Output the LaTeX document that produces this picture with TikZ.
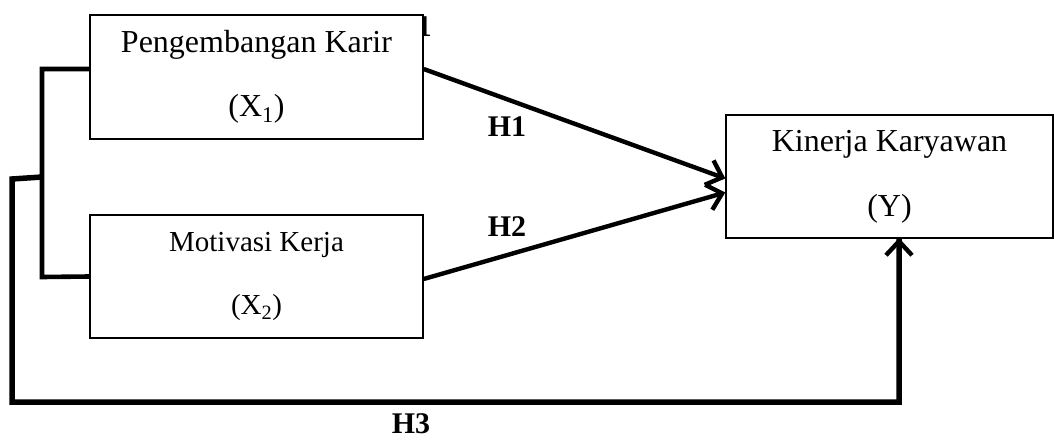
\documentclass[tikz,border=0pt]{standalone}
\usepackage{fontspec}
\setmainfont{Liberation Serif}
\usetikzlibrary{arrows.meta}
\begin{document}
\begin{tikzpicture}[x=1pt,y=-1pt,
  varbox/.style={draw=black,line width=1.4pt,fill=white,inner sep=0pt,align=center,
    minimum width=333pt,minimum height=124pt},
  hlabel/.style={font=\fontsize{30}{36}\selectfont\bfseries,inner sep=0pt},
  conn/.style={line width=4.6pt},
  arr/.style={line width=4.4pt,-{Straight Barb[length=14pt,width=26pt]}}]
\useasboundingbox (0,0) rectangle (1054,439);
% partly hidden label
\node[hlabel,anchor=base] (stray) at (424,36) {1};
% boxes
\node[varbox,font=\fontsize{32}{64}\selectfont] (X1) at (256.5,77) {Pengembangan Karir\\(X\textsubscript{1})};
\node[varbox,font=\fontsize{29}{63}\selectfont,minimum height=123pt] (X2) at (256.5,276.5) {Motivasi Kerja\\(X\textsubscript{2})};
\node[varbox,font=\fontsize{32}{65}\selectfont,minimum width=327pt,minimum height=123pt] (Y) at (889.5,176.5) {Kinerja Karyawan\\(Y)};
% bracket
\coordinate (br) at (42,277);
\coordinate (jn) at (42,177);
\coordinate (c1) at (12,179);
\coordinate (c2) at (12,402);
\coordinate (c3) at (899,402);
\coordinate (yin) at (899,238);
\draw[conn] ([yshift=8pt]X1.west) -| (br) -- (X2.west);
% H1, H2
\draw[arr] ([yshift=8pt]X1.east) -- ([yshift=-2pt]Y.west);
\draw[arr] ([yshift=-2.5pt]X2.east) -- ([yshift=-16pt]Y.west);
% H3
\draw[conn,line width=5.5pt,line join=miter] (jn) -- (c1) -- (c2) -- (c3) -- (yin);
\draw[arr] (c3) -- (yin);
% labels
\node[hlabel] (h1) at (507,127) {H1};
\node[hlabel] (h2) at (507,227) {H2};
\node[hlabel] (h3) at (411,424) {H3};
\end{tikzpicture}
\end{document}
